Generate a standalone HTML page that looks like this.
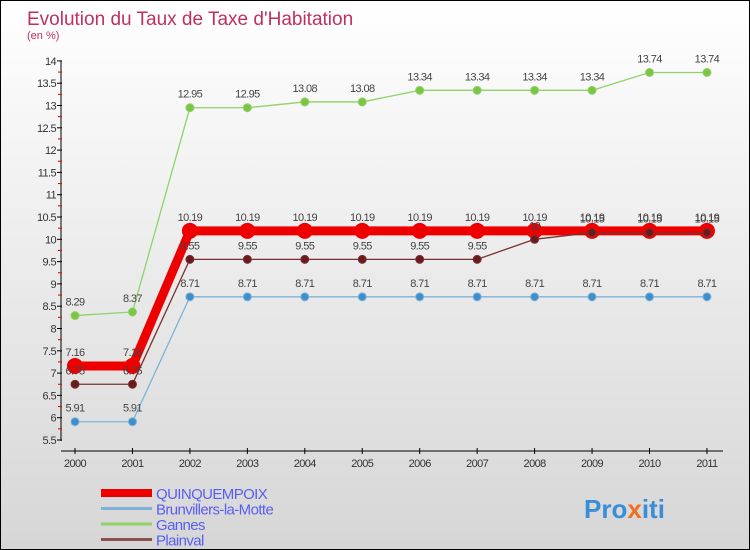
<!DOCTYPE html>
<html><head><meta charset="utf-8"><style>
body{margin:0}
#c{width:748px;height:548px;border:1px solid #000;background:linear-gradient(#fff,#d6d6d6);position:relative;font-family:"Liberation Sans",sans-serif;overflow:hidden}
</style></head><body>
<div id="c">
<svg id="s" width="748" height="548"></svg>
</div>
<script>
const years=["2000","2001","2002","2003","2004","2005","2006","2007","2008","2009","2010","2011"];
const quinq=[7.16,7.16,10.19,10.19,10.19,10.19,10.19,10.19,10.19,10.19,10.19,10.19];
const brun=[5.91,5.91,8.71,8.71,8.71,8.71,8.71,8.71,8.71,8.71,8.71,8.71];
const gannes=[8.29,8.37,12.95,12.95,13.08,13.08,13.34,13.34,13.34,13.34,13.74,13.74];
const plainval=[6.75,6.75,9.55,9.55,9.55,9.55,9.55,9.55,10,10.15,10.15,10.15];
const yTicks=[5.5,6,6.5,7,7.5,8,8.5,9,9.5,10,10.5,11,11.5,12,12.5,13,13.5,14];
const NS="http://www.w3.org/2000/svg";const s=document.getElementById('s');
const X=i=>74+i*57.45, Y=v=>439-(v-5.5)/0.5*22.3;
function el(t,a,p){const e=document.createElementNS(NS,t);for(const k in a)e.setAttribute(k,a[k]);(p||s).appendChild(e);return e;}
function tx(x,y,str,a,p){const e=el('text',Object.assign({x:x,y:y},a),p);e.textContent=str;return e;}
let t=tx(26,24,"Evolution du Taux de Taxe d'Habitation",{fill:"#c0305e","font-size":19});

t=tx(26,38,"(en %)",{fill:"#c0305e","font-size":11});

let ax=el('line',{x1:60,y1:Y(14),x2:60,y2:Y(5.5)+1,stroke:"#000"});

yTicks.forEach(v=>{el('line',{x1:56,x2:61,y1:Y(v),y2:Y(v),stroke:"#000"});
 if(v<14)el('line',{x1:57,x2:61,y1:Y(v+0.25),y2:Y(v+0.25),stroke:"#d00"});
 const l=tx(55,Y(v)+4,String(v),{"text-anchor":"end","font-size":11,fill:"#333","letter-spacing":"-0.6"});
 });
ax=el('line',{x1:60,y1:450,x2:722,y2:450,stroke:"#000"});

years.forEach((y,i)=>{el('line',{x1:X(i),x2:X(i),y1:447,y2:453,stroke:"#000"});
 const l=tx(X(i),466,y,{"text-anchor":"middle","font-size":11,fill:"#333","letter-spacing":"-0.6"});
 });
function series(d,col,w,r,dot,name){
 const p=el('polyline',{points:d.map((v,i)=>X(i)+','+Y(v)).join(' '),fill:"none",stroke:col,"stroke-width":w});
 
 d.forEach((v,i)=>{const c=el('circle',{cx:X(i),cy:Y(v),r:r,fill:dot,stroke:col});
  
  tx(X(i),Y(v)-10,String(v),{"text-anchor":"middle","font-size":11,fill:"#444","letter-spacing":"-0.6"});});
}
series(gannes,"#8fd26a",1.3,4,"#7cc444","gannes");
series(brun,"#7fb2d8",1.3,4,"#3d8fcc","brunvillers");
series(quinq,"#ee0000",9,7.5,"#ee0000","quinquempoix");
series(plainval,"#7a3030",1.3,4,"#6a1c1c","plainval");
const leg=[["QUINQUEMPOIX","#ee0000",8],["Brunvillers-la-Motte","#7fb2d8",3],["Gannes","#8fd26a",3],["Plainval","#8a5050",3]];
leg.forEach((l,i)=>{const y=493+i*15.5;
 const g=el('g',{});
 el('line',{x1:100,x2:151,y1:y-1,y2:y-1,stroke:l[1],"stroke-width":l[2]},g);
 tx(155,y+5,l[0],{fill:"#5a5ef0","font-size":15,"letter-spacing":"-0.6"},g);});
const lg=el('text',{x:583,y:517,"font-size":26,"font-weight":"bold",fill:"#3a8ed8"});

const a=el('tspan',{},lg);a.textContent="Pro";
const b=el('tspan',{fill:"#f07020"},lg);b.textContent="x";
const c=el('tspan',{},lg);c.textContent="iti";
</script>
</body></html>
